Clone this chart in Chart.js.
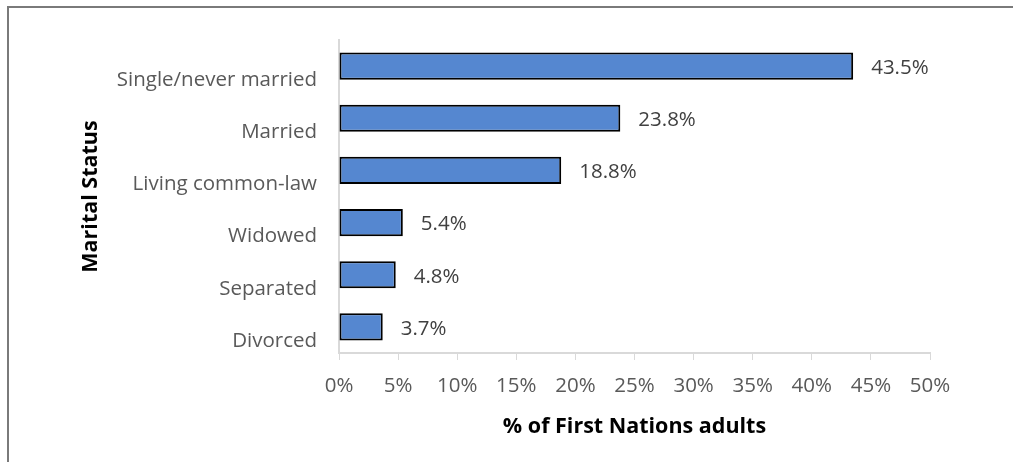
<!DOCTYPE HTML>
<html lang="en">
<head>
    <meta charset="utf-8">
    <title>Marital Status of First Nations Adults</title>
    <script src="https://cdn.jsdelivr.net/npm/chart.js@4.4.0/dist/chart.umd.min.js"></script>
    <style>
        body {
            margin: 0;
            background: #fff;
        }

        #frame {
            position: absolute;
            left: 7px;
            top: 6px;
            width: 1100px;
            height: 600px;
            border-left: 2px solid #7a7a7a;
            border-top: 2px solid #7a7a7a;
        }

        #chart-box {
            position: absolute;
            left: 0;
            top: 0;
            width: 1013px;
            height: 462px;
        }
    </style>
</head>
<body>
    <div id="frame"></div>
    <div id="chart-box">
        <canvas id="marital-chart"></canvas>
    </div>

    <script>
        const categories = ['Single/never married', 'Married', 'Living common-law', 'Widowed', 'Separated', 'Divorced'];
        const percentages = [43.5, 23.8, 18.8, 5.4, 4.8, 3.7];
        const xTicks = [0, 5, 10, 15, 20, 25, 30, 35, 40, 45, 50];

        const fontFamily = "'Open Sans', sans-serif";
        const padLeft = 78;
        const padBottom = 18;

        // Writes the value next to the end of each bar
        const valueLabels = {
            id: 'valueLabels',
            afterDatasetsDraw(chart) {
                const ctx = chart.ctx;
                const meta = chart.getDatasetMeta(0);
                ctx.save();
                ctx.font = '20.5px ' + fontFamily;
                ctx.fillStyle = '#404040';
                ctx.textAlign = 'left';
                ctx.textBaseline = 'middle';
                meta.data.forEach((bar, i) => {
                    ctx.fillText(percentages[i].toFixed(1) + '%', bar.x + 18, bar.y + 2);
                });
                ctx.restore();
            }
        };

        new Chart(document.getElementById('marital-chart').getContext('2d'), {
            type: 'bar',
            data: {
                labels: categories,
                datasets: [{
                    data: percentages,
                    backgroundColor: '#5587d0',
                    borderColor: '#000',
                    borderWidth: 2,
                    borderSkipped: false,
                    categoryPercentage: 1,
                    barPercentage: 0.52
                }]
            },
            plugins: [valueLabels],
            options: {
                indexAxis: 'y',
                responsive: true,
                maintainAspectRatio: false,
                animation: false,
                layout: {
                    padding: { top: 40, right: 83, bottom: padBottom, left: padLeft }
                },
                plugins: {
                    legend: { display: false },
                    tooltip: { enabled: false }
                },
                scales: {
                    x: {
                        min: 0,
                        max: 50,
                        afterBuildTicks(scale) {
                            scale.ticks = xTicks.map(v => ({ value: v }));
                        },
                        afterFit(scale) {
                            scale.height = 462 - padBottom - 353;
                        },
                        ticks: {
                            callback: v => v + '%',
                            color: '#595959',
                            font: { family: fontFamily, size: 20.5 },
                            padding: 14,
                            maxRotation: 0
                        },
                        grid: {
                            display: true,
                            drawOnChartArea: false,
                            drawTicks: true,
                            tickLength: 7,
                            color: '#d9d9d9',
                            lineWidth: 1
                        },
                        border: { display: true, color: '#d9d9d9', width: 2 },
                        title: {
                            display: true,
                            text: '% of First Nations adults',
                            color: '#000',
                            font: { family: fontFamily, size: 21.5, weight: 'bold' },
                            padding: { top: 0, bottom: 4 }
                        }
                    },
                    y: {
                        afterFit(scale) {
                            scale.width = 339 - padLeft;
                        },
                        ticks: {
                            color: '#595959',
                            font: { family: fontFamily, size: 20.5 },
                            padding: 22,
                            labelOffset: 14
                        },
                        grid: { display: false, drawTicks: false },
                        border: { display: true, color: '#d9d9d9', width: 2 },
                        title: {
                            display: true,
                            text: 'Marital Status',
                            color: '#000',
                            font: { family: fontFamily, size: 21.5, weight: 'bold' },
                            padding: 0
                        }
                    }
                }
            }
        });
    </script>
</body>
</html>
